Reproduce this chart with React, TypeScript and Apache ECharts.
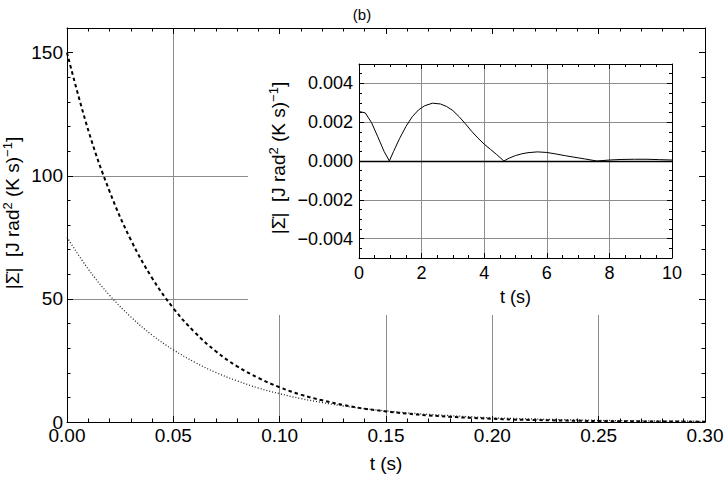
import { useEffect, useRef } from 'react';
import * as echarts from 'echarts';

// ---- Main plot data ----
const T_MAIN = [0, 0.01, 0.02, 0.03, 0.04, 0.05, 0.06, 0.07, 0.08, 0.09, 0.1, 0.11, 0.12, 0.13, 0.14, 0.15, 0.16, 0.17, 0.18, 0.19, 0.2, 0.21, 0.22, 0.23, 0.24, 0.25, 0.26, 0.27, 0.28, 0.29, 0.3];
const DASHED = [150, 118.5, 93.7, 74.0, 58.5, 46.2, 36.5, 28.7, 22.6, 17.9, 14.1, 11.1, 8.8, 6.9, 5.4, 4.3, 3.4, 2.7, 2.1, 1.7, 1.3, 1.0, 0.8, 0.64, 0.5, 0.4, 0.31, 0.25, 0.19, 0.15, 0.12];
const DOTTED = [75, 62.1, 51.5, 42.7, 35.3, 29.3, 24.3, 20.1, 16.7, 13.8, 11.5, 9.5, 7.9, 6.5, 5.4, 4.5, 3.7, 3.1, 2.6, 2.1, 1.7, 1.45, 1.2, 1.0, 0.83, 0.69, 0.57, 0.47, 0.39, 0.33, 0.27];

// ---- Inset data ----
const T_INSET = [0, 0.2, 0.4, 0.6, 0.8, 0.97, 1.1, 1.3, 1.5, 1.7, 1.9, 2.1, 2.35, 2.6, 2.8, 3.0, 3.2, 3.4, 3.6, 3.8, 4.0, 4.2, 4.4, 4.63, 4.8, 5.0, 5.2, 5.4, 5.7, 6.0, 6.3, 6.6, 6.9, 7.2, 7.6, 8.0, 8.4, 8.8, 9.2, 9.6, 10];
const INSET = [0.00255, 0.00248, 0.00198, 0.00125, 0.0005, 0, 0.00048, 0.00117, 0.00178, 0.00228, 0.00263, 0.00285, 0.00298, 0.00294, 0.00281, 0.0026, 0.00228, 0.00192, 0.00153, 0.00118, 0.00087, 0.0006, 0.00033, 0, 0.00015, 0.00028, 0.00037, 0.00043, 0.00047, 0.00044, 0.00036, 0.00027, 0.00019, 0.00011, 0, 0.00005, 0.00008, 0.00009, 0.00009, 0.00007, 0.00005];

const TITLE = '(b)';
const X_NAME = 't (s)';
const Y_NAME = '{n|\u007C\u03A3\u0307\u007C  [J rad}{s|2}{n| (K s)}{s|\u22121}{n|]}';
const MAIN_Y_GRID_COLORS = ['rgba(0,0,0,0)', '#8c8c8c', '#8c8c8c', 'rgba(0,0,0,0)', 'rgba(0,0,0,0)'];

const FONT = '"Liberation Sans", Arial, Helvetica, sans-serif';

const richName = (size: number) => ({
  n: { fontSize: size, fontFamily: FONT, color: '#000', lineHeight: size + 4 },
  s: { fontSize: Math.round(size * 0.66), fontFamily: FONT, color: '#000', verticalAlign: 'top' as const },
});

export default function App() {
  const ref = useRef<HTMLDivElement>(null);
  useEffect(() => {
    if (!ref.current) return;
    const chart = echarts.init(ref.current, undefined, { renderer: 'svg' });
    const tickLine = { color: '#000', width: 1 };
    const frame = (gridIndex: number, position: string, min: number, max: number, extra: any) => ({
      type: 'value',
      gridIndex,
      position,
      min,
      max,
      axisLine: { show: true, onZero: false, lineStyle: { color: '#000', width: 1 } },
      axisTick: { show: true, inside: true, length: 6, lineStyle: tickLine },
      minorTick: { show: true, length: 3.5, lineStyle: tickLine },
      axisLabel: { show: false },
      splitLine: { show: false },
      ...extra,
    });
    const option: any = {
      animation: false,
      backgroundColor: '#fff',
      title: {
        text: TITLE,
        left: 'center',
        top: 2,
        textStyle: { fontSize: 15, fontWeight: 'normal', color: '#000', fontFamily: FONT },
      },
      grid: [
        { left: 67, right: 19, top: 28, bottom: 57, containLabel: false, outerBoundsMode: 'none' },
        { left: 359, right: 52, top: 64, bottom: 221, containLabel: false, outerBoundsMode: 'none' },
      ],
      graphic: [
        {
          type: 'rect',
          z: 2,
          silent: true,
          shape: { x: 248, y: 29, width: 456, height: 286 },
          style: { fill: '#fff' },
        },
      ],
      xAxis: [
        frame(0, 'bottom', 0, 0.3, {
          interval: 0.05,
          z: 1,
          minorTick: { show: true, splitNumber: 5, length: 3.5, lineStyle: tickLine },
          axisLabel: {
            show: true,
            margin: 4,
            fontSize: 19,
            color: '#000',
            fontFamily: FONT,
            formatter: (v: number) => v.toFixed(2),
          },
          splitLine: { show: true, showMinLine: false, showMaxLine: false, lineStyle: { color: '#8c8c8c', width: 1 } },
          name: X_NAME,
          nameLocation: 'middle',
          nameGap: 32,
          nameTextStyle: { fontSize: 19, color: '#000', fontFamily: FONT },
        }),
        frame(0, 'top', 0, 0.3, {
          interval: 0.05,
          z: 4,
          minorTick: { show: true, splitNumber: 5, length: 3.5, lineStyle: tickLine },
        }),
        frame(1, 'bottom', 0, 10, {
          interval: 2,
          z: 5,
          axisTick: { show: true, inside: true, length: 5, lineStyle: tickLine },
          minorTick: { show: true, splitNumber: 4, length: 3, lineStyle: tickLine },
          axisLabel: { show: true, margin: 6, fontSize: 18, color: '#000', fontFamily: FONT },
          splitLine: { show: true, showMinLine: false, showMaxLine: false, lineStyle: { color: '#8c8c8c', width: 1 } },
          name: X_NAME,
          nameLocation: 'middle',
          nameGap: 30,
          nameTextStyle: { fontSize: 18, color: '#000', fontFamily: FONT },
        }),
        frame(1, 'top', 0, 10, {
          interval: 2,
          z: 5,
          axisTick: { show: true, inside: true, length: 5, lineStyle: tickLine },
          minorTick: { show: true, splitNumber: 4, length: 3, lineStyle: tickLine },
        }),
      ],
      yAxis: [
        frame(0, 'left', 0, 160, {
          interval: 50,
          z: 1,
          minorTick: { show: true, splitNumber: 5, length: 3.5, lineStyle: tickLine },
          axisLabel: { show: true, margin: 4, fontSize: 19, color: '#000', fontFamily: FONT, showMaxLabel: false },
          splitLine: { show: true, lineStyle: { color: MAIN_Y_GRID_COLORS, width: 1 } },
          name: Y_NAME,
          nameLocation: 'middle',
          nameRotate: 90,
          nameGap: 43,
          nameMoveOverlap: false,
          nameTextStyle: { rich: richName(19), padding: [0, 0, 0, 24] },
        }),
        frame(0, 'right', 0, 160, {
          interval: 50,
          z: 4,
          minorTick: { show: true, splitNumber: 5, length: 3.5, lineStyle: tickLine },
        }),
        frame(1, 'left', -0.005, 0.005, {
          splitNumber: 5,
          z: 5,
          axisTick: { show: true, inside: true, length: 5, lineStyle: tickLine },
          minorTick: { show: true, splitNumber: 4, length: 3, lineStyle: tickLine },
          axisLabel: {
            show: true,
            margin: 6,
            fontSize: 18,
            color: '#000',
            fontFamily: FONT,
            showMinLabel: false,
            showMaxLabel: false,
            formatter: (v: number) => (v < -1e-9 ? '\u2212' : '') + Math.abs(v).toFixed(3),
          },
          splitLine: { show: true, showMinLine: false, showMaxLine: false, lineStyle: { color: '#8c8c8c', width: 1 } },
          name: Y_NAME,
          nameLocation: 'middle',
          nameRotate: 90,
          nameGap: 69,
          nameMoveOverlap: false,
          nameTextStyle: { rich: richName(19), padding: [0, 0, 0, 6] },
        }),
        frame(1, 'right', -0.005, 0.005, {
          splitNumber: 5,
          z: 5,
          axisTick: { show: true, inside: true, length: 5, lineStyle: tickLine },
          minorTick: { show: true, splitNumber: 4, length: 3, lineStyle: tickLine },
        }),
      ],
      series: [
        {
          type: 'line',
          xAxisIndex: 0,
          yAxisIndex: 0,
          z: 3,
          data: T_MAIN.map((t, i) => [t, DASHED[i]]),
          showSymbol: false,
          smooth: 0.4,
          lineStyle: { color: '#000', width: 2, type: [3.5, 3] },
        },
        {
          type: 'line',
          xAxisIndex: 0,
          yAxisIndex: 0,
          z: 3,
          data: T_MAIN.map((t, i) => [t, DOTTED[i]]),
          showSymbol: false,
          smooth: 0.4,
          lineStyle: { color: '#222', width: 1.3, type: [1, 2] },
        },
        {
          type: 'line',
          xAxisIndex: 2,
          yAxisIndex: 2,
          z: 6,
          data: T_INSET.map((t, i) => [t, INSET[i]]),
          showSymbol: false,
          lineStyle: { color: '#000', width: 1 },
          markLine: {
            silent: true,
            symbol: 'none',
            label: { show: false },
            lineStyle: { color: '#000', type: 'solid', width: 1.3 },
            data: [{ yAxis: 0 }],
          },
        },
      ],
    };
    chart.setOption(option);
    return () => chart.dispose();
  }, []);
  return <div ref={ref} style={{ position: 'absolute', left: 0, top: 0, width: 724, height: 479 }} />;
}
